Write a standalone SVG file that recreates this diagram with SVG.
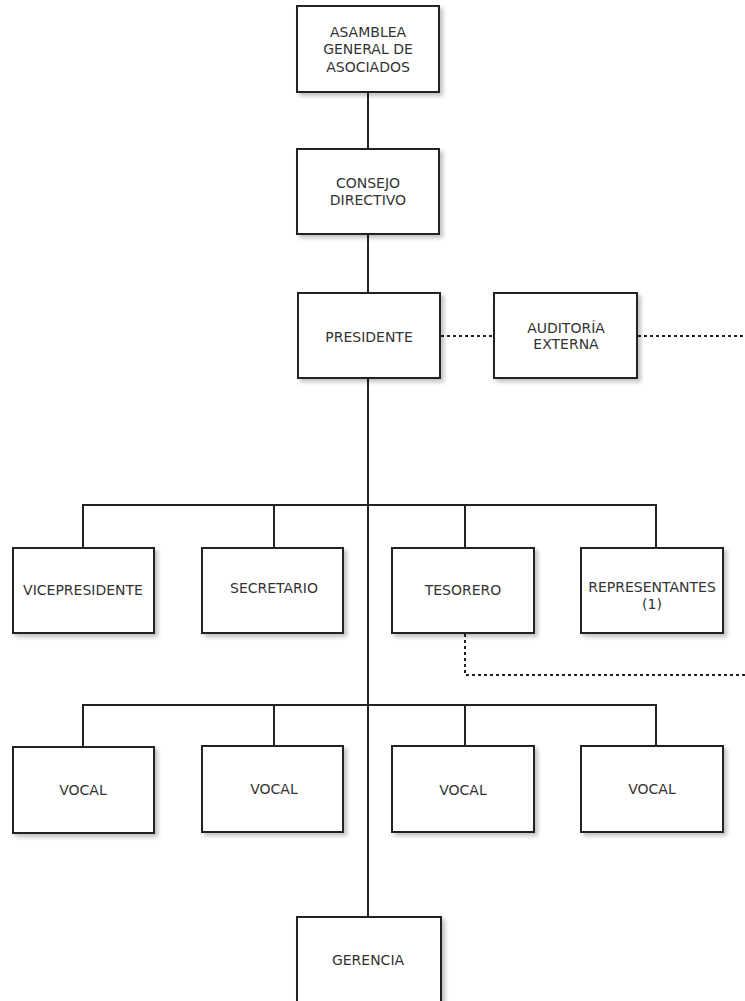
<svg xmlns="http://www.w3.org/2000/svg" width="745" height="1001" viewBox="0 0 745 1001">
<defs>
<filter id="sh" x="-10%" y="-10%" width="130%" height="130%">
<feGaussianBlur in="SourceAlpha" stdDeviation="2"/>
<feOffset dx="3" dy="3" result="b"/>
<feComponentTransfer><feFuncA type="linear" slope="0.25"/></feComponentTransfer>
<feMerge><feMergeNode/><feMergeNode in="SourceGraphic"/></feMerge>
</filter>
</defs>
<style>
.box{fill:#fff;stroke:#222;stroke-width:2;filter:url(#sh)}
.t{font-family:"DejaVu Sans",Verdana,sans-serif;font-size:14px;fill:#333;text-anchor:middle}
.ln{stroke:#222;stroke-width:2;fill:none}
.dt{stroke:#222;stroke-width:2;fill:none;stroke-dasharray:3 3}
</style>
<rect width="745" height="1001" fill="#fff"/>
<g id="connectors">
<line class="ln" x1="368" y1="92" x2="368" y2="149"/>
<line class="ln" x1="368" y1="234" x2="368" y2="293"/>
<line class="ln" x1="368" y1="378" x2="368" y2="917"/>
<polyline class="ln" points="83,548 83,505 656,505 656,548"/>
<line class="ln" x1="274" y1="505" x2="274" y2="548"/>
<line class="ln" x1="465" y1="505" x2="465" y2="548"/>
<polyline class="ln" points="83,747 83,705 656,705 656,747"/>
<line class="ln" x1="274" y1="705" x2="274" y2="747"/>
<line class="ln" x1="465" y1="705" x2="465" y2="747"/>
<line class="dt" x1="441" y1="336" x2="494" y2="336"/>
<line class="dt" x1="638" y1="336" x2="745" y2="336"/>
<polyline class="dt" points="465,634 465,675 745,675"/>
</g>
<g id="asamblea"><rect class="box" x="297" y="6" width="142" height="86"/>
<text class="t" x="368" y="37">ASAMBLEA</text><text class="t" x="368" y="54">GENERAL DE</text><text class="t" x="368" y="72">ASOCIADOS</text></g>
<g id="consejo"><rect class="box" x="297" y="149" width="142" height="85"/>
<text class="t" x="368" y="188">CONSEJO</text><text class="t" x="368" y="205">DIRECTIVO</text></g>
<g id="presidente"><rect class="box" x="298" y="293" width="142" height="85"/>
<text class="t" x="369" y="342">PRESIDENTE</text></g>
<g id="auditoria"><rect class="box" x="494" y="293" width="143" height="85"/>
<text class="t" x="566" y="333">AUDITORÍA</text><text class="t" x="566" y="349">EXTERNA</text></g>
<g id="vicepresidente"><rect class="box" x="13" y="548" width="141" height="85"/>
<text class="t" x="83" y="595">VICEPRESIDENTE</text></g>
<g id="secretario"><rect class="box" x="202" y="548" width="141" height="85"/>
<text class="t" x="274" y="593">SECRETARIO</text></g>
<g id="tesorero"><rect class="box" x="392" y="548" width="142" height="85"/>
<text class="t" x="463" y="595">TESORERO</text></g>
<g id="representantes"><rect class="box" x="581" y="548" width="142" height="85"/>
<text class="t" x="652" y="592">REPRESENTANTES</text><text class="t" x="652" y="609">(1)</text></g>
<g id="vocal1"><rect class="box" x="13" y="747" width="141" height="86"/>
<text class="t" x="83" y="795">VOCAL</text></g>
<g id="vocal2"><rect class="box" x="202" y="746" width="141" height="86"/>
<text class="t" x="274" y="794">VOCAL</text></g>
<g id="vocal3"><rect class="box" x="392" y="746" width="142" height="86"/>
<text class="t" x="463" y="795">VOCAL</text></g>
<g id="vocal4"><rect class="box" x="581" y="746" width="142" height="86"/>
<text class="t" x="652" y="794">VOCAL</text></g>
<g id="gerencia"><rect class="box" x="297" y="917" width="144" height="90"/>
<text class="t" x="368" y="965">GERENCIA</text></g>
</svg>
